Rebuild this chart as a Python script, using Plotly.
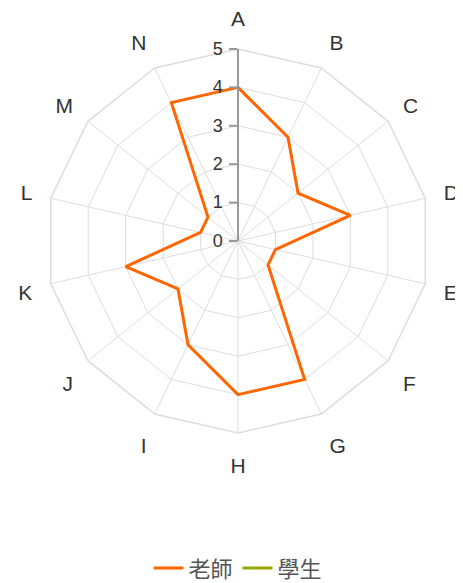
import plotly.graph_objects as go

categories = ["A", "B", "C", "D", "E", "F", "G", "H", "I", "J", "K", "L", "M", "N"]
teacher = [4, 3, 2, 3, 1, 1, 4, 4, 3, 2, 3, 1, 1, 4]
student = [None] * 14
radial_ticks = [0, 1, 2, 3, 4, 5]

fig = go.Figure()
fig.add_trace(go.Scatterpolar(
    r=teacher + teacher[:1], theta=categories + categories[:1],
    mode="lines", name="老師",
    line=dict(color="#ff6600", width=3),
))
fig.add_trace(go.Scatterpolar(
    r=student, theta=categories, mode="lines", name="學生",
    line=dict(color="#99a800", width=3),
))

fig.update_layout(
    width=463, height=583,
    margin=dict(l=38, r=41, t=41, b=158, autoexpand=False),
    paper_bgcolor="white", plot_bgcolor="white",
    font=dict(family="Liberation Sans, Arial, sans-serif", color="#333"),
    polar=dict(
        bgcolor="white",
        gridshape="linear",
        domain=dict(x=[0, 1], y=[0, 1]),
        angularaxis=dict(
            categoryorder="array", categoryarray=categories,
            direction="clockwise", rotation=90,
            gridcolor="#dddddd", linecolor="#dddddd", linewidth=1.5,
            showline=True, ticks="outside", ticklen=14, tickcolor="rgba(0,0,0,0)",
            tickfont=dict(size=21, color="#333"),
        ),
        radialaxis=dict(
            range=[0, 5], tickvals=radial_ticks, angle=90,
            side="counterclockwise",
            gridcolor="#dddddd", linecolor="#999999", linewidth=2,
            showline=True, ticks="outside", ticklen=8, tickcolor="#999999", tickwidth=2,
            tickfont=dict(size=18, color="#333"),
            tickangle=90, ticksuffix="\u2002",
        ),
    ),
    showlegend=True,
    legend=dict(
        orientation="h", x=0.5, xanchor="center", y=-0.352, yanchor="middle",
        font=dict(family="Noto Sans CJK TC, sans-serif", size=22, color="#555"),
    ),
)

fig.write_html("out.html")
